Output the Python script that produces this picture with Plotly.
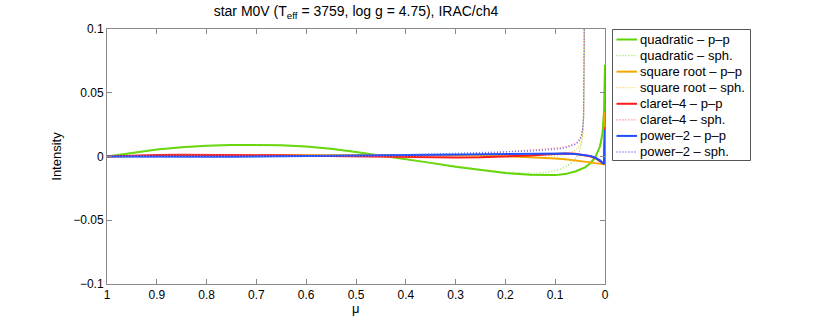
import plotly.graph_objects as go

# ---- data ----
mu_pp = [1, 0.95, 0.9, 0.85, 0.8, 0.75, 0.7, 0.65, 0.6, 0.55, 0.5, 0.45, 0.4, 0.35, 0.3,
         0.25, 0.2, 0.15, 0.12, 0.1, 0.08, 0.06, 0.04, 0.03, 0.02, 0.01, 0.005, 0.002, 0]

quad_pp = [0, 0.0030, 0.0055, 0.0073, 0.0085, 0.0091, 0.0092, 0.0088, 0.0078, 0.0060, 0.0035,
           0.0008, -0.0020, -0.0050, -0.0080, -0.0107, -0.0129, -0.0143, -0.0147, -0.0146,
           -0.0138, -0.0118, -0.0085, -0.0055, -0.0010, 0.0080, 0.018, 0.035, 0.072]
sqrt_pp = [0, 0.0003, 0.0005, 0.0007, 0.0008, 0.0009, 0.0010, 0.0011, 0.0011, 0.0012, 0.0012,
           0.0012, 0.0012, 0.0011, 0.0010, 0.0007, 0.0002, -0.0005, -0.0010, -0.0015,
           -0.0022, -0.0030, -0.0040, -0.0046, -0.0052, -0.0058, -0.0062, -0.0060, 0.035]
clar_pp = [0, 0.0008, 0.0012, 0.0013, 0.0013, 0.0012, 0.0011, 0.0009, 0.0006, 0.0003, 0.0000,
           -0.0003, -0.0006, -0.0008, -0.0008, -0.0006, -0.0001, 0.0008, 0.0015, 0.0020,
           0.0024, 0.0022, 0.0012, 0.0002, -0.0012, -0.0035, -0.0050, -0.0058, 0.023]
pow_pp = [0, -0.0001, -0.0002, -0.0002, -0.0002, -0.0001, 0.0000, 0.0002, 0.0004, 0.0006, 0.0009,
          0.0012, 0.0014, 0.0017, 0.0019, 0.0021, 0.0022, 0.0024, 0.0025, 0.0025,
          0.0024, 0.0020, 0.0012, 0.0005, -0.0008, -0.0030, -0.0048, -0.0058, 0.021]

mu_sph = [1, 0.9, 0.8, 0.7, 0.6, 0.5, 0.4, 0.3, 0.25, 0.2, 0.15, 0.12, 0.1, 0.09, 0.08, 0.07,
          0.06, 0.055, 0.05, 0.047, 0.045, 0.043, 0.042, 0.041]
quad_sph = [0, 0.0055, 0.0085, 0.0092, 0.0078, 0.0035, -0.0020, -0.0078, -0.0103, -0.0122,
            -0.0132, -0.0128, -0.0112, -0.0100, -0.0082, -0.0058, -0.0022, 0.0010, 0.0058,
            0.0105, 0.0165, 0.030, 0.055, 0.13]
sqrt_sph = [0, 0.0005, 0.0008, 0.0010, 0.0011, 0.0012, 0.0012, 0.0010, 0.0008, 0.0005,
            0.0003, 0.0004, 0.0008, 0.0012, 0.0018, 0.0028, 0.0047, 0.0066, 0.0095,
            0.013, 0.018, 0.030, 0.055, 0.13]
clar_sph = [0, 0.0012, 0.0013, 0.0011, 0.0006, 0.0001, -0.0002, 0.0010, 0.0022, 0.0035,
            0.0048, 0.0056, 0.0063, 0.0068, 0.0075, 0.0085, 0.0100, 0.0115, 0.0140,
            0.017, 0.021, 0.032, 0.055, 0.13]
pow_sph = [0, -0.0002, -0.0002, 0.0000, 0.0004, 0.0009, 0.0015, 0.0025, 0.0030, 0.0036,
           0.0043, 0.0050, 0.0056, 0.0061, 0.0068, 0.0078, 0.0094, 0.0110, 0.0135,
           0.017, 0.021, 0.032, 0.055, 0.13]

x_ticks = [1, 0.9, 0.8, 0.7, 0.6, 0.5, 0.4, 0.3, 0.2, 0.1, 0]
x_ticktext = ["1", "0.9", "0.8", "0.7", "0.6", "0.5", "0.4", "0.3", "0.2", "0.1", "0"]
y_ticks = [-0.1, -0.05, 0, 0.05, 0.1]
y_ticktext = ["\u22120.1", "\u22120.05", "0", "0.05", "0.1"]

DOT = "1px,2px"
series = [
    ("quadratic \u2013 p\u2013p", mu_pp, quad_pp, "#5ed400", "solid", 2),
    ("quadratic \u2013 sph.", mu_sph, quad_sph, "#8ee040", DOT, 1.3),
    ("square root \u2013 p\u2013p", mu_pp, sqrt_pp, "#f5a800", "solid", 2),
    ("square root \u2013 sph.", mu_sph, sqrt_sph, "#ffcc33", DOT, 1.3),
    ("claret\u20134 \u2013 p\u2013p", mu_pp, clar_pp, "#ff1a1a", "solid", 2),
    ("claret\u20134 \u2013 sph.", mu_sph, clar_sph, "#ff6060", DOT, 1.3),
    ("power\u20132 \u2013 p\u2013p", mu_pp, pow_pp, "#1f4fff", "solid", 2),
    ("power\u20132 \u2013 sph.", mu_sph, pow_sph, "#6070ff", DOT, 1.3),
]

# ---- layout constants (pixels) ----
W, H = 830, 319
L, R, T, B = 107, 225, 29, 35
PW, PH = W - L - R, H - T - B

def px_x(p):
    return (p - L) / PW

def px_y(p):
    return (H - B - p) / PH

fig = go.Figure()
for name, x, y, col, dash, w in series:
    fig.add_trace(go.Scatter(x=x, y=y, mode="lines", name=name, showlegend=False,
                             line=dict(color=col, dash=dash, width=w)))

# custom legend (compact, MATLAB-like)
shapes = [dict(type="rect", xref="paper", yref="paper",
               x0=px_x(612.5), x1=px_x(750.5), y0=px_y(160.5), y1=px_y(29.5),
               line=dict(color="#555555", width=1), fillcolor="white", layer="above")]
annotations = []
row0, dy = 39.5, 16.07
for i, (name, x, y, col, dash, w) in enumerate(series):
    yy = px_y(row0 + dy * i)
    shapes.append(dict(type="line", xref="paper", yref="paper",
                       x0=px_x(616.5), x1=px_x(637), y0=yy, y1=yy, layer="above",
                       line=dict(color=col, dash=dash, width=w)))
    annotations.append(dict(text=name, xref="paper", yref="paper", x=px_x(637.5), y=yy,
                            xanchor="left", yanchor="middle", showarrow=False,
                            font=dict(size=13, color="black")))

# x-axis label placed like the reference
annotations.append(dict(text="\u03bc", xref="paper", yref="paper", x=0.5, y=px_y(308),
                        xanchor="center", yanchor="middle", showarrow=False,
                        font=dict(size=13, color="black")))

axis_common = dict(showline=True, mirror="ticks", linecolor="#8a8a8a", linewidth=1,
                   ticks="inside", ticklen=5, tickcolor="#8a8a8a", showgrid=False,
                   zeroline=False, automargin=False, tickfont=dict(size=12, color="black"))

fig.update_layout(
    width=W, height=H,
    margin=dict(l=L, r=R, t=T, b=B),
    paper_bgcolor="white", plot_bgcolor="white",
    font=dict(family="Liberation Sans, Arial, sans-serif", size=12, color="black"),
    title=dict(text="star M0V (T<sub>eff</sub> = 3759, log g = 4.75), IRAC/ch4",
               x=356 / W, xanchor="center", y=1 - 11 / H, yanchor="middle",
               font=dict(size=14)),
    xaxis=dict(range=[1, 0], tickvals=x_ticks, ticktext=x_ticktext, **axis_common),
    yaxis=dict(range=[-0.1, 0.1], tickvals=y_ticks, ticktext=y_ticktext,
               title=dict(text="Intensity", standoff=8, font=dict(size=13)), **axis_common),
    shapes=shapes,
    annotations=annotations,
    showlegend=False,
)

fig.write_html("out.html", config={"displayModeBar": False},
               post_script="document.body.style.margin='0';document.body.style.overflow='hidden';")
